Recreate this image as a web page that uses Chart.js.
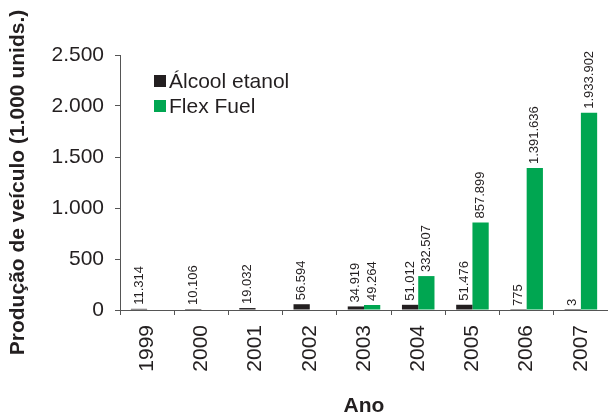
<!DOCTYPE html>
<html lang="pt-BR">
<head>
<meta charset="utf-8">
<title>Produção de veículos</title>
<script src="https://cdn.jsdelivr.net/npm/chart.js@4.4.1/dist/chart.umd.min.js"></script>
<style>
  html, body { margin: 0; padding: 0; background: #fff; }
  #wrap { width: 608px; height: 417px; }
</style>
</head>
<body>
<div id="wrap"><canvas id="grafico" width="608" height="417"></canvas></div>
<script>
  // dados (unidades)
  const anos = ["1999", "2000", "2001", "2002", "2003", "2004", "2005", "2006", "2007"];
  const alcool = [11314, 10106, 19032, 56594, 34919, 51012, 51476, 775, 3];
  const flexFuel = [null, null, null, null, 49264, 332507, 857899, 1391636, 1933902];
  const yTicks = [0, 500, 1000, 1500, 2000, 2500]; // em 1.000 unids.

  const corAlcool = "#231f20";
  const corFlex = "#00a651";
  const corTexto = "#231f20";
  const corEixo = "#555555";
  const fonte = "'Liberation Sans', Arial, Helvetica, sans-serif";

  function milhar(n) {
    return String(Math.round(n)).replace(/\B(?=(\d{3})+(?!\d))/g, ".");
  }

  const emMil = arr => arr.map(v => (v === null ? null : v / 1000));

  // rótulos de valor acima das barras
  const rotulosPlugin = {
    id: "rotulos",
    afterDatasetsDraw(chart) {
      const ctx = chart.ctx;
      const brutos = [alcool, flexFuel];
      ctx.save();
      ctx.font = "13px " + fonte;
      ctx.fillStyle = corTexto;
      ctx.textAlign = "left";
      ctx.textBaseline = "middle";
      chart.data.datasets.forEach((ds, i) => {
        const meta = chart.getDatasetMeta(i);
        meta.data.forEach((bar, j) => {
          const v = brutos[i][j];
          if (v === null) return;
          ctx.save();
          ctx.translate(bar.x, bar.y - 4);
          ctx.rotate(-Math.PI / 2);
          ctx.fillText(milhar(v), 0, 0);
          ctx.restore();
        });
      });
      ctx.restore();
    }
  };

  // legenda dentro da área do gráfico
  const legendaPlugin = {
    id: "legendaInterna",
    afterDraw(chart) {
      const ctx = chart.ctx;
      const area = chart.chartArea;
      ctx.save();
      ctx.font = "21px " + fonte;
      ctx.textBaseline = "alphabetic";
      chart.data.datasets.forEach((ds, i) => {
        const y = area.top + 20 + i * 25;
        ctx.fillStyle = ds.backgroundColor;
        ctx.fillRect(area.left + 34, y, 12, 12);
        ctx.fillStyle = corTexto;
        ctx.fillText(ds.label, area.left + 49, y + 13);
      });
      ctx.restore();
    }
  };

  new Chart(document.getElementById("grafico"), {
    type: "bar",
    data: {
      labels: anos,
      datasets: [
        {
          label: "Álcool etanol",
          data: emMil(alcool),
          backgroundColor: corAlcool,
          categoryPercentage: 0.6,
          barPercentage: 1.0
        },
        {
          label: "Flex Fuel",
          data: emMil(flexFuel),
          backgroundColor: corFlex,
          categoryPercentage: 0.6,
          barPercentage: 1.0
        }
      ]
    },
    options: {
      responsive: false,
      animation: false,
      devicePixelRatio: 1,
      layout: { padding: { top: 55, left: 0, right: 0, bottom: 0 } },
      plugins: {
        legend: { display: false },
        tooltip: { enabled: false }
      },
      scales: {
        x: {
          afterFit: s => { s.height = 107; s.paddingLeft = 0; s.paddingRight = 0; },
          border: { display: true, color: corEixo, width: 1 },
          grid: { display: true, drawOnChartArea: false, drawTicks: true, tickLength: 5, color: corEixo, offset: true },
          ticks: {
            minRotation: 90,
            maxRotation: 90,
            padding: 10,
            color: corTexto,
            font: { family: fonte, size: 21 }
          },
          title: {
            display: true,
            text: "Ano",
            color: corTexto,
            font: { family: fonte, size: 21, weight: "bold", lineHeight: 1 },
            padding: { top: 0, bottom: 0 }
          }
        },
        y: {
          min: 0,
          max: 2500,
          afterFit: s => { s.width = 120; s.paddingTop = 0; s.paddingBottom = 0; },
          afterBuildTicks: s => { s.ticks = yTicks.map(v => ({ value: v })); },
          border: { display: true, color: corEixo, width: 1 },
          grid: { display: true, drawOnChartArea: false, drawTicks: true, tickLength: 5, color: corEixo },
          ticks: {
            padding: 11,
            color: corTexto,
            font: { family: fonte, size: 21 },
            callback: v => milhar(v)
          },
          title: {
            display: true,
            text: "Produção de veículo (1.000 unids.)",
            color: corTexto,
            font: { family: fonte, size: 21, weight: "bold", lineHeight: 1.2 },
            padding: { top: 6, bottom: 0 }
          }
        }
      }
    },
    plugins: [rotulosPlugin, legendaPlugin]
  });
</script>
</body>
</html>
